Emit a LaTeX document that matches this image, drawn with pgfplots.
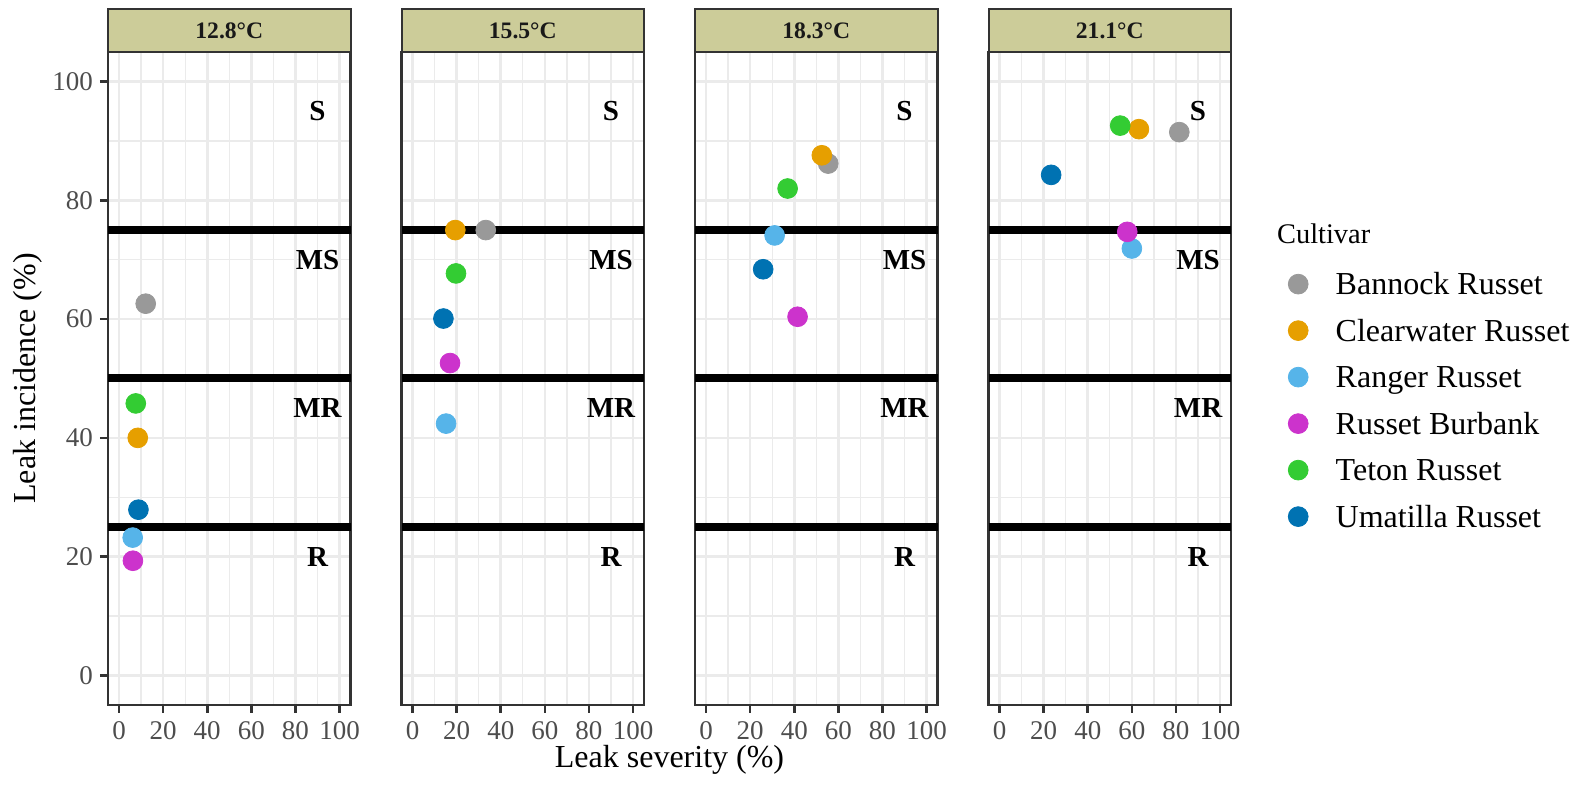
\documentclass[border=0pt]{standalone}
\usepackage{fontspec}
\setmainfont{Liberation Serif}
\usepackage{pgfplots}
\pgfplotsset{compat=1.18}
\definecolor{cBan}{HTML}{999999}
\definecolor{cCle}{HTML}{E69F00}
\definecolor{cRan}{HTML}{56B4E9}
\definecolor{cBur}{HTML}{CC33CC}
\definecolor{cTet}{HTML}{33CC33}
\definecolor{cUma}{HTML}{0072B2}
\definecolor{gridc}{HTML}{EBEBEB}
\definecolor{framec}{HTML}{333333}
\definecolor{tickc}{HTML}{4D4D4D}
\definecolor{stripc}{RGB}{204,204,153}
\newcommand{\tickfont}{\fontsize{13.5}{13.5}\selectfont}
\pgfplotsset{
  panel/.style={
    scale only axis, width=121.3pt, height=326.5pt,
    anchor=south west,
    xmin=-5, xmax=105, ymin=-5, ymax=105,
    xtick={0,20,...,100}, ytick={0,20,...,100},
    minor xtick={10,30,50,70,90}, minor ytick={10,30,50,70,90},
    grid=both,
    major grid style={gridc, line width=1.3pt},
    minor grid style={gridc, line width=0.65pt},
    tick align=outside, major tick length=4pt, minor tick length=0pt,
    xtick pos=bottom, ytick pos=left,
    tick style={framec, line width=1.3pt},
    axis line style={framec, line width=1.35pt},
    /pgf/number format/assume math mode=true,
    xticklabel style={font=\tickfont, text=tickc, inner sep=0pt, anchor=north},
    yticklabel style={font=\tickfont, text=tickc, inner sep=0pt, anchor=east},
    xticklabel shift=3.85pt, yticklabel shift=3.35pt,
    clip=false,
    legend image code/.code={\draw[##1] plot coordinates {(0pt,0pt)};},
  },
  noy/.style={yticklabels={}, ytick style={draw=none}},
  thr/.style={black, line width=4pt, forget plot, no markers},
  pt/.style={only marks, mark=*, mark size=4.95pt, mark options={line width=0.4pt}, color=#1},
}
\newcommand{\strip}[1]{%
  \draw[fill=stripc, draw=framec, line width=1pt] (rel axis cs:0,1) rectangle (rel axis cs:1,1.06585);
  \node[font=\bfseries\fontsize{11.8}{11.8}\selectfont, text=black!90] at (rel axis cs:0.5,1.0329) {#1};
}
\newcommand{\zones}{%
  \node[font=\bfseries\fontsize{14.5}{14.5}\selectfont] at (axis cs:90,95) {S};
  \node[font=\bfseries\fontsize{14.5}{14.5}\selectfont] at (axis cs:90,70) {MS};
  \node[font=\bfseries\fontsize{14.5}{14.5}\selectfont] at (axis cs:90,45) {MR};
  \node[font=\bfseries\fontsize{14.5}{14.5}\selectfont] at (axis cs:90,20) {R};
}
\newcommand{\thresholds}{%
  \addplot[thr] coordinates {(-5,25) (105,25)};
  \addplot[thr] coordinates {(-5,50) (105,50)};
  \addplot[thr] coordinates {(-5,75) (105,75)};
}
\begin{document}
\begin{tikzpicture}
\useasboundingbox (0,0) rectangle (789pt,392.5pt);
% Panel 1: 12.8 C
\begin{axis}[panel, at={(54pt,40pt)}]
\thresholds
\addplot[pt=cBan] coordinates {(12.1,62.6)};
\addplot[pt=cCle] coordinates {(8.5,40.0)};
\addplot[pt=cRan] coordinates {(6.2,23.2)};
\addplot[pt=cBur] coordinates {(6.3,19.3)};
\addplot[pt=cTet] coordinates {(7.6,45.8)};
\addplot[pt=cUma] coordinates {(8.8,27.9)};
\zones
\strip{12.8°C}
\node[rotate=90, font=\fontsize{16}{16}\selectfont] at (axis description cs:-0.3285,0.5) {Leak incidence (\%)};
\node[font=\fontsize{16}{16}\selectfont] at (axis description cs:2.3145,-0.0835) {Leak severity (\%)};
\end{axis}
% Panel 2: 15.5 C
\begin{axis}[panel, noy, at={(200.75pt,40pt)}]
\thresholds
\addplot[pt=cBan] coordinates {(33.2,75.0)};
\addplot[pt=cCle] coordinates {(19.4,75.0)};
\addplot[pt=cRan] coordinates {(15.2,42.4)};
\addplot[pt=cBur] coordinates {(17.0,52.6)};
\addplot[pt=cTet] coordinates {(19.7,67.7)};
\addplot[pt=cUma] coordinates {(14.0,60.1)};
\zones
\strip{15.5°C}
\end{axis}
% Panel 3: 18.3 C
\begin{axis}[panel, noy, at={(347.5pt,40pt)}]
\thresholds
\addplot[pt=cBan] coordinates {(55.4,86.2)};
\addplot[pt=cCle] coordinates {(52.5,87.6)};
\addplot[pt=cRan] coordinates {(31.1,74.1)};
\addplot[pt=cBur] coordinates {(41.5,60.4)};
\addplot[pt=cTet] coordinates {(37.0,82.0)};
\addplot[pt=cUma] coordinates {(25.9,68.4)};
\zones
\strip{18.3°C}
\end{axis}
% Panel 4: 21.1 C
\begin{axis}[panel, noy, at={(494.25pt,40pt)},
  legend cell align=left,
  legend style={at={(axis description cs:1.2358,0.6652)}, anchor=north west,
    draw=none, fill=none, inner sep=0pt, outer sep=0pt,
    row sep=9.75pt, column sep=13.8pt,
    font=\fontsize{16}{16}\selectfont, nodes={inner sep=0pt}}]
\thresholds
\addplot[pt=cBan] coordinates {(81.5,91.5)};
\addlegendentry{\raisebox{0pt}[12pt][1.4pt]{Bannock Russet}}
\addplot[pt=cCle] coordinates {(63.2,92.0)};
\addlegendentry{\raisebox{0pt}[12pt][1.4pt]{Clearwater Russet}}
\addplot[pt=cRan] coordinates {(60.0,71.9)};
\addlegendentry{\raisebox{0pt}[12pt][1.4pt]{Ranger Russet}}
\addplot[pt=cBur] coordinates {(57.9,74.7)};
\addlegendentry{\raisebox{0pt}[12pt][1.4pt]{Russet Burbank}}
\addplot[pt=cTet] coordinates {(54.7,92.6)};
\addlegendentry{\raisebox{0pt}[12pt][1.4pt]{Teton Russet}}
\addplot[pt=cUma] coordinates {(23.4,84.3)};
\addlegendentry{\raisebox{0pt}[12pt][1.4pt]{Umatilla Russet}}
\zones
\strip{21.1°C}
\node[anchor=west, inner sep=0pt, font=\fontsize{14.2}{14.2}\selectfont] at (axis description cs:1.1880,0.721) {Cultivar};
\end{axis}
\end{tikzpicture}
\end{document}
